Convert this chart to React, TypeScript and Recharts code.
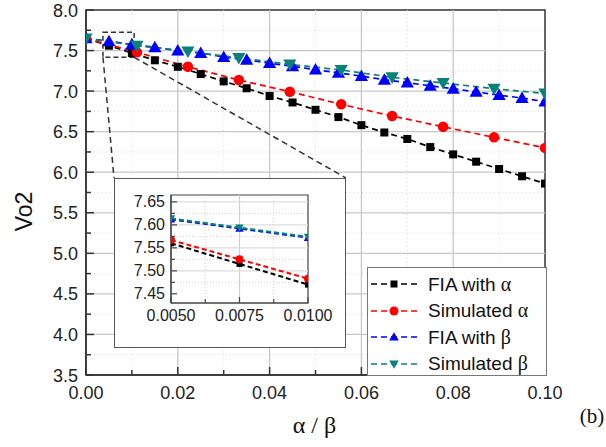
import React from 'react';
import { LineChart, Line, XAxis, YAxis, ReferenceLine, ReferenceArea } from 'recharts';

// ---------- data ----------
const xFine = [0, 0.005, 0.01, 0.015, 0.02, 0.025, 0.03, 0.035, 0.04, 0.045, 0.05, 0.055, 0.06, 0.065, 0.07, 0.075, 0.08, 0.085, 0.09, 0.095, 0.1];
const fiaAlpha = [7.65, 7.56, 7.47, 7.38, 7.3, 7.21, 7.12, 7.035, 6.94, 6.86, 6.77, 6.68, 6.58, 6.49, 6.41, 6.31, 6.22, 6.13, 6.04, 5.95, 5.86];
const fiaBeta = [7.65, 7.615, 7.575, 7.54, 7.5, 7.47, 7.42, 7.385, 7.345, 7.305, 7.265, 7.225, 7.185, 7.14, 7.105, 7.065, 7.03, 6.99, 6.95, 6.915, 6.87];
const xCoarse = [0, 0.0111, 0.0222, 0.0333, 0.0444, 0.0556, 0.0667, 0.0778, 0.0889, 0.1];
const simAlpha = [7.65, 7.478, 7.3, 7.137, 6.993, 6.837, 6.693, 6.56, 6.43, 6.3];
const simBeta = [7.65, 7.56, 7.49, 7.41, 7.33, 7.26, 7.17, 7.1, 7.03, 6.97];

const insetX = [0.005, 0.0075, 0.01];
const insetFiaAlpha = [7.56, 7.515, 7.47];
const insetSimAlpha = [7.567, 7.525, 7.483];
const insetFiaBeta = [7.612, 7.592, 7.572];
const insetSimBeta = [7.614, 7.594, 7.574];

const xTicks = [0, 0.01, 0.02, 0.03, 0.04, 0.05, 0.06, 0.07, 0.08, 0.09, 0.1];
const xMajorGrid = [0.02, 0.04, 0.06, 0.08];
const xMinorGrid = [0.01, 0.03, 0.05, 0.07, 0.09];
const yTicks = [3.5, 3.75, 4, 4.25, 4.5, 4.75, 5, 5.25, 5.5, 5.75, 6, 6.25, 6.5, 6.75, 7, 7.25, 7.5, 7.75, 8];
const yMajorGrid = [4, 4.5, 5, 5.5, 6, 6.5, 7, 7.5];
const yMinorGrid = [3.75, 4.25, 4.75, 5.25, 5.75, 6.25, 6.75, 7.25, 7.75];

const insetXTicks = [0.005, 0.00625, 0.0075, 0.00875, 0.01];
const insetYTicks = [7.45, 7.475, 7.5, 7.525, 7.55, 7.575, 7.6, 7.625, 7.65];
const insetYMajorGrid = [7.5, 7.55, 7.6, 7.65];
const insetYMinorGrid = [7.475, 7.525, 7.575, 7.625];

// zoom rectangle & inset frame in data units of the main chart
const zoomRect = { x1: 0.0037, x2: 0.0105, y1: 7.417, y2: 7.725 };
const insetFrame = { x1: 0.0061, x2: 0.0566, y1: 3.83, y2: 5.93 };

const legendItems = [
  { name: 'FIA with ', greek: 'α', color: '#000000', shape: 'square' },
  { name: 'Simulated ', greek: 'α', color: '#ff0000', shape: 'circle' },
  { name: 'FIA with ', greek: 'β', color: '#0000ff', shape: 'up' },
  { name: 'Simulated ', greek: 'β', color: '#0a8278', shape: 'down' },
];

const pairs = (xs: number[], ys: number[]) => xs.map((x, i) => ({ x, y: ys[i] }));

const SANS = '"Liberation Sans", Arial, sans-serif';
const SERIF = '"Liberation Serif", "Times New Roman", serif';

// ---------- markers ----------
function Marker({ shape, cx, cy, s, color }: { shape: string; cx: number; cy: number; s: number; color: string }) {
  if (shape === 'square') return <rect x={cx - s / 2} y={cy - s / 2} width={s} height={s} fill={color} />;
  if (shape === 'circle') return <circle cx={cx} cy={cy} r={s / 2 + 0.5} fill={color} />;
  if (shape === 'up')
    return <polygon points={`${cx},${cy - s * 0.6} ${cx - s * 0.6},${cy + s * 0.45} ${cx + s * 0.6},${cy + s * 0.45}`} fill={color} />;
  return <polygon points={`${cx},${cy + s * 0.6} ${cx - s * 0.6},${cy - s * 0.45} ${cx + s * 0.6},${cy - s * 0.45}`} fill={color} />;
}

const dotFn = (shape: string, color: string, s: number) => (p: any) => {
  if (p.cx == null || p.cy == null) return <g key={`e${p.index}`} />;
  return (
    <g key={`${shape}-${p.index}`}>
      <Marker shape={shape} cx={p.cx} cy={p.cy} s={s} color={color} />
    </g>
  );
};

// ---------- ticks ----------
const MainXTick = (props: any) => {
  const { x, y, payload } = props;
  const v = payload.value as number;
  const major = Math.round(v * 100) % 2 === 0;
  return (
    <g>
      <line x1={x} x2={x} y1={y} y2={y - (major ? 8 : 5)} stroke="#333" strokeWidth={1.5} />
      {major && (
        <text x={x} y={y + 24} textAnchor="middle" fontSize={18} fill="#222" fontFamily={SANS}>
          {v.toFixed(2)}
        </text>
      )}
    </g>
  );
};

const MainYTick = (props: any) => {
  const { x, y, payload } = props;
  const v = payload.value as number;
  const major = Math.round(v * 100) % 50 === 0;
  return (
    <g>
      <line x1={x} x2={x + (major ? 8 : 5)} y1={y} y2={y} stroke="#333" strokeWidth={1.5} />
      {major && (
        <text x={x - 8} y={y + 6.5} textAnchor="end" fontSize={18} fill="#222" fontFamily={SANS}>
          {v.toFixed(1)}
        </text>
      )}
    </g>
  );
};

const InsetXTick = (props: any) => {
  const { x, y, payload } = props;
  const v = payload.value as number;
  const major = Math.round(v * 10000) % 25 === 0;
  return (
    <g>
      <line x1={x} x2={x} y1={y} y2={y - (major ? 6 : 4)} stroke="#444" strokeWidth={1.2} />
      {major && (
        <text x={x} y={y + 18} textAnchor="middle" fontSize={16} fill="#222" fontFamily={SANS}>
          {v.toFixed(4)}
        </text>
      )}
    </g>
  );
};

const InsetYTick = (props: any) => {
  const { x, y, payload } = props;
  const v = payload.value as number;
  const major = Math.round(v * 1000) % 50 === 0;
  return (
    <g>
      <line x1={x} x2={x + (major ? 6 : 4)} y1={y} y2={y} stroke="#444" strokeWidth={1.2} />
      {major && (
        <text x={x - 6} y={y + 5.5} textAnchor="end" fontSize={16} fill="#222" fontFamily={SANS}>
          {v.toFixed(2)}
        </text>
      )}
    </g>
  );
};

const YLabel = (props: any) => {
  const vb = props.viewBox || { x: 0, y: 0, width: 0, height: 0 };
  const cx = vb.x + 24;
  const cy = vb.y + vb.height / 2 + 19;
  return (
    <text x={cx} y={cy} transform={`rotate(-90 ${cx} ${cy})`} textAnchor="middle" dominantBaseline="central" fontSize={23} fill="#111" fontFamily={SANS}>
      Vo2
    </text>
  );
};

const XLabel = (props: any) => {
  const vb = props.viewBox || { x: 0, y: 0, width: 0, height: 0 };
  const cx = vb.x + vb.width / 2 - 1;
  return (
    <g>
      <text x={cx} y={vb.y + 58} textAnchor="middle" fontSize={24} fill="#111" fontFamily={SERIF}>
        α / β
      </text>
      <text x={vb.x + vb.width + 47} y={vb.y + 48} textAnchor="middle" fontSize={21} fill="#111" fontFamily={SERIF}>
        (b)
      </text>
    </g>
  );
};

export default function App() {
  const mainSeries = [
    { data: pairs(xFine, fiaAlpha), color: '#000000', shape: 'square', s: 8 },
    { data: pairs(xCoarse, simAlpha), color: '#ff0000', shape: 'circle', s: 9.5 },
    { data: pairs(xFine, fiaBeta), color: '#0000ff', shape: 'up', s: 11 },
    { data: pairs(xCoarse, simBeta), color: '#0a8278', shape: 'down', s: 11 },
  ];
  const insetSeries = [
    { data: pairs(insetX, insetFiaAlpha), color: '#000000', shape: 'square', s: 6 },
    { data: pairs(insetX, insetSimAlpha), color: '#ff0000', shape: 'circle', s: 7 },
    { data: pairs(insetX, insetFiaBeta), color: '#0000ff', shape: 'up', s: 7 },
    { data: pairs(insetX, insetSimBeta), color: '#0a8278', shape: 'down', s: 7 },
  ];

  return (
    <div style={{ position: 'absolute', left: 0, top: 0, width: 606, height: 447, background: '#fff' }}>
      <LineChart width={606} height={447} margin={{ top: 10, right: 61, bottom: 0, left: 0 }}>
        <XAxis
          dataKey="x"
          type="number"
          domain={[0, 0.1]}
          ticks={xTicks}
          interval={0}
          tickSize={0}
          tickMargin={0}
          tickLine={false}
          tick={<MainXTick />}
          axisLine={{ stroke: '#333', strokeWidth: 1.5 }}
          height={72}
          allowDataOverflow
          label={<XLabel />}
        />
        <YAxis
          type="number"
          domain={[3.5, 8]}
          ticks={yTicks}
          interval={0}
          tickSize={0}
          tickMargin={0}
          tickLine={false}
          tick={<MainYTick />}
          axisLine={{ stroke: '#333', strokeWidth: 1.5 }}
          width={86}
          allowDataOverflow
          label={<YLabel />}
        />
        {xMinorGrid.map((v) => (
          <ReferenceLine key={`xm${v}`} x={v} stroke="#d8d8d8" strokeDasharray="1 3" />
        ))}
        {yMinorGrid.map((v) => (
          <ReferenceLine key={`ym${v}`} y={v} stroke="#d8d8d8" strokeDasharray="1 3" />
        ))}
        {xMajorGrid.map((v) => (
          <ReferenceLine key={`xg${v}`} x={v} stroke="#c8c8c8" strokeWidth={1.3} />
        ))}
        {yMajorGrid.map((v) => (
          <ReferenceLine key={`yg${v}`} y={v} stroke="#c8c8c8" strokeWidth={1.3} />
        ))}
        <ReferenceArea x1={0} x2={0.1} y1={3.5} y2={8} fill="none" stroke="#333" strokeWidth={1.5} />
        <ReferenceArea
          x1={zoomRect.x1}
          x2={zoomRect.x2}
          y1={zoomRect.y1}
          y2={zoomRect.y2}
          fill="none"
          fillOpacity={0}
          stroke="#333"
          strokeWidth={1.5}
          strokeDasharray="5 3"
        />
        <ReferenceLine
          segment={[{ x: zoomRect.x1, y: zoomRect.y1 }, { x: insetFrame.x1, y: insetFrame.y2 }]}
          stroke="#333"
          strokeWidth={1.5}
          strokeDasharray="6 4"
        />
        <ReferenceLine
          segment={[{ x: zoomRect.x2, y: zoomRect.y1 }, { x: insetFrame.x2, y: insetFrame.y2 }]}
          stroke="#333"
          strokeWidth={1.5}
          strokeDasharray="6 4"
        />
        {mainSeries.map((s, i) => (
          <Line
            key={`m${i}`}
            data={s.data}
            dataKey="y"
            type="linear"
            stroke={s.color}
            strokeWidth={1.7}
            strokeDasharray="6 4"
            dot={dotFn(s.shape, s.color, s.s)}
            activeDot={false}
            isAnimationActive={false}
          />
        ))}
      </LineChart>

      {/* inset */}
      <div
        style={{
          position: 'absolute',
          left: 114,
          top: 178,
          width: 232,
          height: 170,
          background: '#fff',
          border: '1.5px solid #555',
          boxSizing: 'border-box',
        }}
      >
        <div style={{ position: 'absolute', left: -1.5, top: -1.5 }}>
          <LineChart width={232} height={170} margin={{ top: 17, right: 38, bottom: 0, left: 0 }}>
            <XAxis
              dataKey="x"
              type="number"
              domain={[0.005, 0.01]}
              ticks={insetXTicks}
              interval={0}
              tickSize={0}
              tickMargin={0}
              tickLine={false}
              tick={<InsetXTick />}
              axisLine={{ stroke: '#444', strokeWidth: 1.2 }}
              height={45}
              allowDataOverflow
            />
            <YAxis
              type="number"
              domain={[7.43, 7.665]}
              ticks={insetYTicks}
              interval={0}
              tickSize={0}
              tickMargin={0}
              tickLine={false}
              tick={<InsetYTick />}
              axisLine={{ stroke: '#444', strokeWidth: 1.2 }}
              width={57}
              allowDataOverflow
            />
            {[0.00625, 0.00875].map((v) => (
              <ReferenceLine key={`ixm${v}`} x={v} stroke="#d0d0d0" strokeDasharray="1 2" />
            ))}
            {insetYMinorGrid.map((v) => (
              <ReferenceLine key={`iym${v}`} y={v} stroke="#d0d0d0" strokeDasharray="1 2" />
            ))}
            <ReferenceLine x={0.0075} stroke="#cfcfcf" strokeWidth={1.2} />
            {insetYMajorGrid.map((v) => (
              <ReferenceLine key={`iyg${v}`} y={v} stroke="#dcdcdc" strokeWidth={1.2} />
            ))}
            <ReferenceArea x1={0.005} x2={0.01} y1={7.43} y2={7.665} fill="none" stroke="#444" strokeWidth={1.2} />
            {insetSeries.map((s, i) => (
              <Line
                key={`i${i}`}
                data={s.data}
                dataKey="y"
                type="linear"
                stroke={s.color}
                strokeWidth={2}
                strokeDasharray="5 3"
                dot={dotFn(s.shape, s.color, s.s)}
                activeDot={false}
                isAnimationActive={false}
              />
            ))}
          </LineChart>
        </div>
      </div>

      {/* legend */}
      <div
        style={{
          position: 'absolute',
          left: 367,
          top: 267,
          width: 180,
          height: 109,
          background: '#fff',
          border: '1.5px solid #777',
          boxSizing: 'border-box',
        }}
      >
        {legendItems.map((it, i) => (
          <div
            key={it.name + it.greek}
            style={{
              position: 'absolute',
              left: 0,
              top: 4 + i * 26.5,
              height: 24,
              display: 'flex',
              alignItems: 'center',
              whiteSpace: 'nowrap',
            }}
          >
            <svg width={58} height={24} style={{ display: 'block' }}>
              <line x1={3} x2={49} y1={12} y2={12} stroke={it.color} strokeWidth={1.6} strokeDasharray="6 4" />
              <Marker shape={it.shape} cx={26} cy={12} s={it.shape === 'square' ? 7 : 8} color={it.color} />
            </svg>
            <span style={{ fontFamily: SANS, fontSize: 19, color: '#111', marginLeft: 2 }}>
              {it.name}
              <span style={{ fontFamily: SERIF, fontSize: 20 }}>{it.greek}</span>
            </span>
          </div>
        ))}
      </div>
    </div>
  );
}
